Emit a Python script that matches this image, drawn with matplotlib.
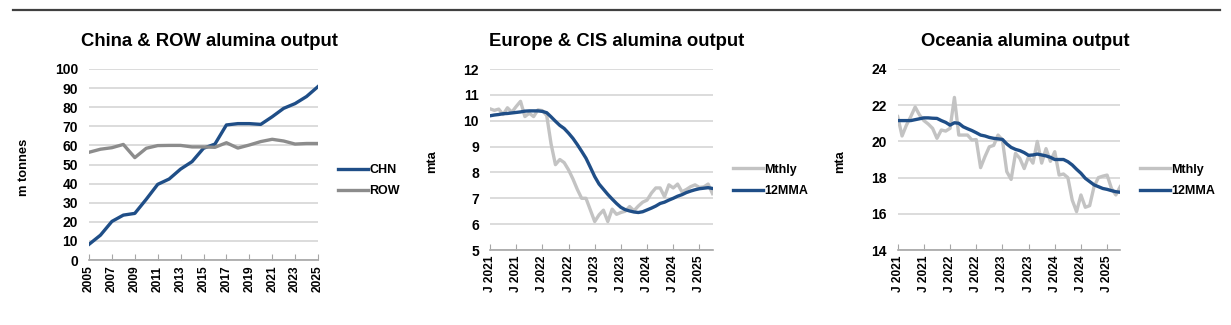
import matplotlib
matplotlib.use("Agg")
import matplotlib.pyplot as plt
from matplotlib.lines import Line2D
import numpy as np

plt.rcParams['font.family'] = ['Liberation Sans', 'DejaVu Sans']
plt.rcParams['font.weight'] = 'bold'

BLUE = '#1f4e87'
DARK_GREY = '#8c8c8c'
LIGHT_GREY = '#c3c3c3'
GRID = '#d9d9d9'
AXIS = '#a6a6a6'

# Annual output, million tonnes
years = list(range(2005, 2026))
chn = [8.2, 13.0, 20.2, 23.5, 24.4, 31.8, 39.6, 42.4, 47.6, 51.5, 58.5,
       60.7, 70.7, 71.4, 71.4, 71.0, 75.0, 79.4, 81.9, 85.6, 90.8]
row = [56.4, 58.0, 58.8, 60.5, 53.6, 58.5, 59.9, 60.0, 60.0, 59.2, 59.2,
       59.0, 61.4, 58.6, 60.2, 62.0, 63.2, 62.3, 60.7, 61.0, 61.0]

# Monthly series, Jan 2021 onwards (annualised, mta)
month_labels = ['J 2021', 'J 2021', 'J 2022', 'J 2022', 'J 2023',
                'J 2023', 'J 2024', 'J 2024', 'J 2025']

eur_mthly = [10.46, 10.40, 10.45, 10.24, 10.50, 10.33, 10.55, 10.75, 10.16, 10.29,
             10.16, 10.42, 10.39, 10.20, 9.10, 8.30, 8.50, 8.38, 8.10, 7.75,
             7.35, 7.00, 7.00, 6.55, 6.10, 6.36, 6.54, 6.10, 6.58, 6.38,
             6.45, 6.50, 6.68, 6.52, 6.70, 6.85, 6.93, 7.20, 7.40, 7.40,
             7.06, 7.52, 7.40, 7.55, 7.25, 7.34, 7.45, 7.52, 7.42, 7.44,
             7.55, 7.18]
eur_12mma = [10.19, 10.22, 10.24, 10.27, 10.28, 10.30, 10.32, 10.34, 10.37, 10.38,
             10.38, 10.38, 10.36, 10.31, 10.15, 9.98, 9.82, 9.70, 9.52, 9.32,
             9.08, 8.82, 8.55, 8.20, 7.84, 7.55, 7.35, 7.15, 6.97, 6.80,
             6.65, 6.56, 6.51, 6.47, 6.45, 6.48, 6.55, 6.62, 6.70, 6.80,
             6.85, 6.93, 7.00, 7.08, 7.14, 7.22, 7.28, 7.33, 7.37, 7.39,
             7.41, 7.38]

oce_mthly = [21.37, 20.30, 20.90, 21.37, 21.90, 21.46, 21.15, 20.96, 20.72, 20.17,
             20.63, 20.57, 20.72, 22.43, 20.35, 20.35, 20.35, 20.08, 20.10, 18.55,
             19.16, 19.70, 19.78, 20.35, 20.08, 18.33, 17.90, 19.34, 19.06, 18.50,
             19.16, 18.80, 20.00, 18.80, 19.60, 18.90, 19.43, 18.14, 18.20, 18.00,
             16.76, 16.12, 17.04, 16.36, 16.45, 17.50, 18.00, 18.08, 18.14, 17.40,
             17.04, 17.50]
oce_12mma = [21.15, 21.15, 21.15, 21.15, 21.20, 21.25, 21.30, 21.30, 21.28, 21.27,
             21.15, 21.05, 20.90, 21.03, 21.00, 20.81, 20.70, 20.60, 20.48, 20.35,
             20.30, 20.22, 20.17, 20.14, 20.11, 19.86, 19.67, 19.56, 19.49, 19.38,
             19.23, 19.25, 19.30, 19.25, 19.20, 19.12, 19.00, 19.00, 19.00, 18.88,
             18.70, 18.46, 18.24, 17.96, 17.78, 17.60, 17.50, 17.40, 17.35, 17.28,
             17.22, 17.19]


def style_axis(ax):
    for side in ['top', 'right', 'left']:
        ax.spines[side].set_visible(False)
    ax.spines['bottom'].set_color(AXIS)
    ax.spines['bottom'].set_linewidth(1.2)
    ax.grid(axis='y', color=GRID, linewidth=1.3)
    ax.set_axisbelow(True)
    ax.tick_params(axis='y', length=0, labelsize=10, pad=8)
    ax.tick_params(axis='x', direction='in', length=4, color=AXIS,
                   labelsize=8.6, labelrotation=90, pad=4)
    for lab in ax.get_xticklabels() + ax.get_yticklabels():
        lab.set_fontweight('bold')


def add_legend(ax, x, y):
    ax.legend(loc='center left', bbox_to_anchor=(x, y), frameon=False,
              prop={'size': 9, 'weight': 'bold'}, handlelength=2.4,
              handletextpad=0.1, labelspacing=0.75, borderpad=0,
              borderaxespad=0)


fig = plt.figure(figsize=(12.31, 3.25), dpi=100)

# China vs rest of world
ax1 = fig.add_axes([89 / 1231, 65 / 325, 229 / 1231, 191 / 325])
ax1.plot(years, chn, color=BLUE, lw=2.4, label='CHN')
ax1.plot(years, row, color=DARK_GREY, lw=2.4, label='ROW')
ax1.set_xlim(2005, 2025)
ax1.set_ylim(0, 100)
ax1.set_yticks(range(0, 101, 10))
ax1.set_xticks(range(2005, 2026, 2))
style_axis(ax1)
ax1.set_ylabel('m tonnes', fontsize=9.3, fontweight='bold')
ax1.yaxis.set_label_coords(-0.258, 0.487)
add_legend(ax1, 1.087, 0.415)

# Regional monthly panels
months = np.arange(len(eur_mthly))
panels = [
    (490, eur_mthly, eur_12mma, (5, 12), range(5, 13), 'Europe & CIS alumina output'),
    (897.7, oce_mthly, oce_12mma, (14, 24), range(14, 25, 2), 'Oceania alumina output'),
]
axes = [ax1]
for left, mthly, mma, ylim, yt, title in panels:
    ax = fig.add_axes([left / 1231, 75 / 325, 222.5 / 1231, 181 / 325])
    ax.plot(months, mthly, color=LIGHT_GREY, lw=2.4, label='Mthly')
    ax.plot(months, mma, color=BLUE, lw=2.4, label='12MMA')
    ax.set_xlim(0, len(months) - 1)
    ax.set_ylim(*ylim)
    ax.set_yticks(list(yt))
    ax.set_xticks(range(0, len(months), 6))
    ax.set_xticklabels(month_labels)
    style_axis(ax)
    ax.set_ylabel('mta', fontsize=9.3, fontweight='bold')
    ax.yaxis.set_label_coords(-0.232, 0.49)
    add_legend(ax, 1.09, 0.385)
    axes.append(ax)

titles = ['China & ROW alumina output', 'Europe & CIS alumina output',
          'Oceania alumina output']
centres = [209, 617, 1025]
for t, cx in zip(titles, centres):
    fig.text(cx / 1231, 1 - 42 / 325, t, ha='center', va='center',
             fontsize=13.3, fontweight='bold')

# Rule across the top
fig.add_artist(Line2D([13 / 1231, 1220 / 1231], [1 - 10 / 325] * 2,
                      color='#404040', lw=1.6))

fig.savefig('out.png', dpi=100)
